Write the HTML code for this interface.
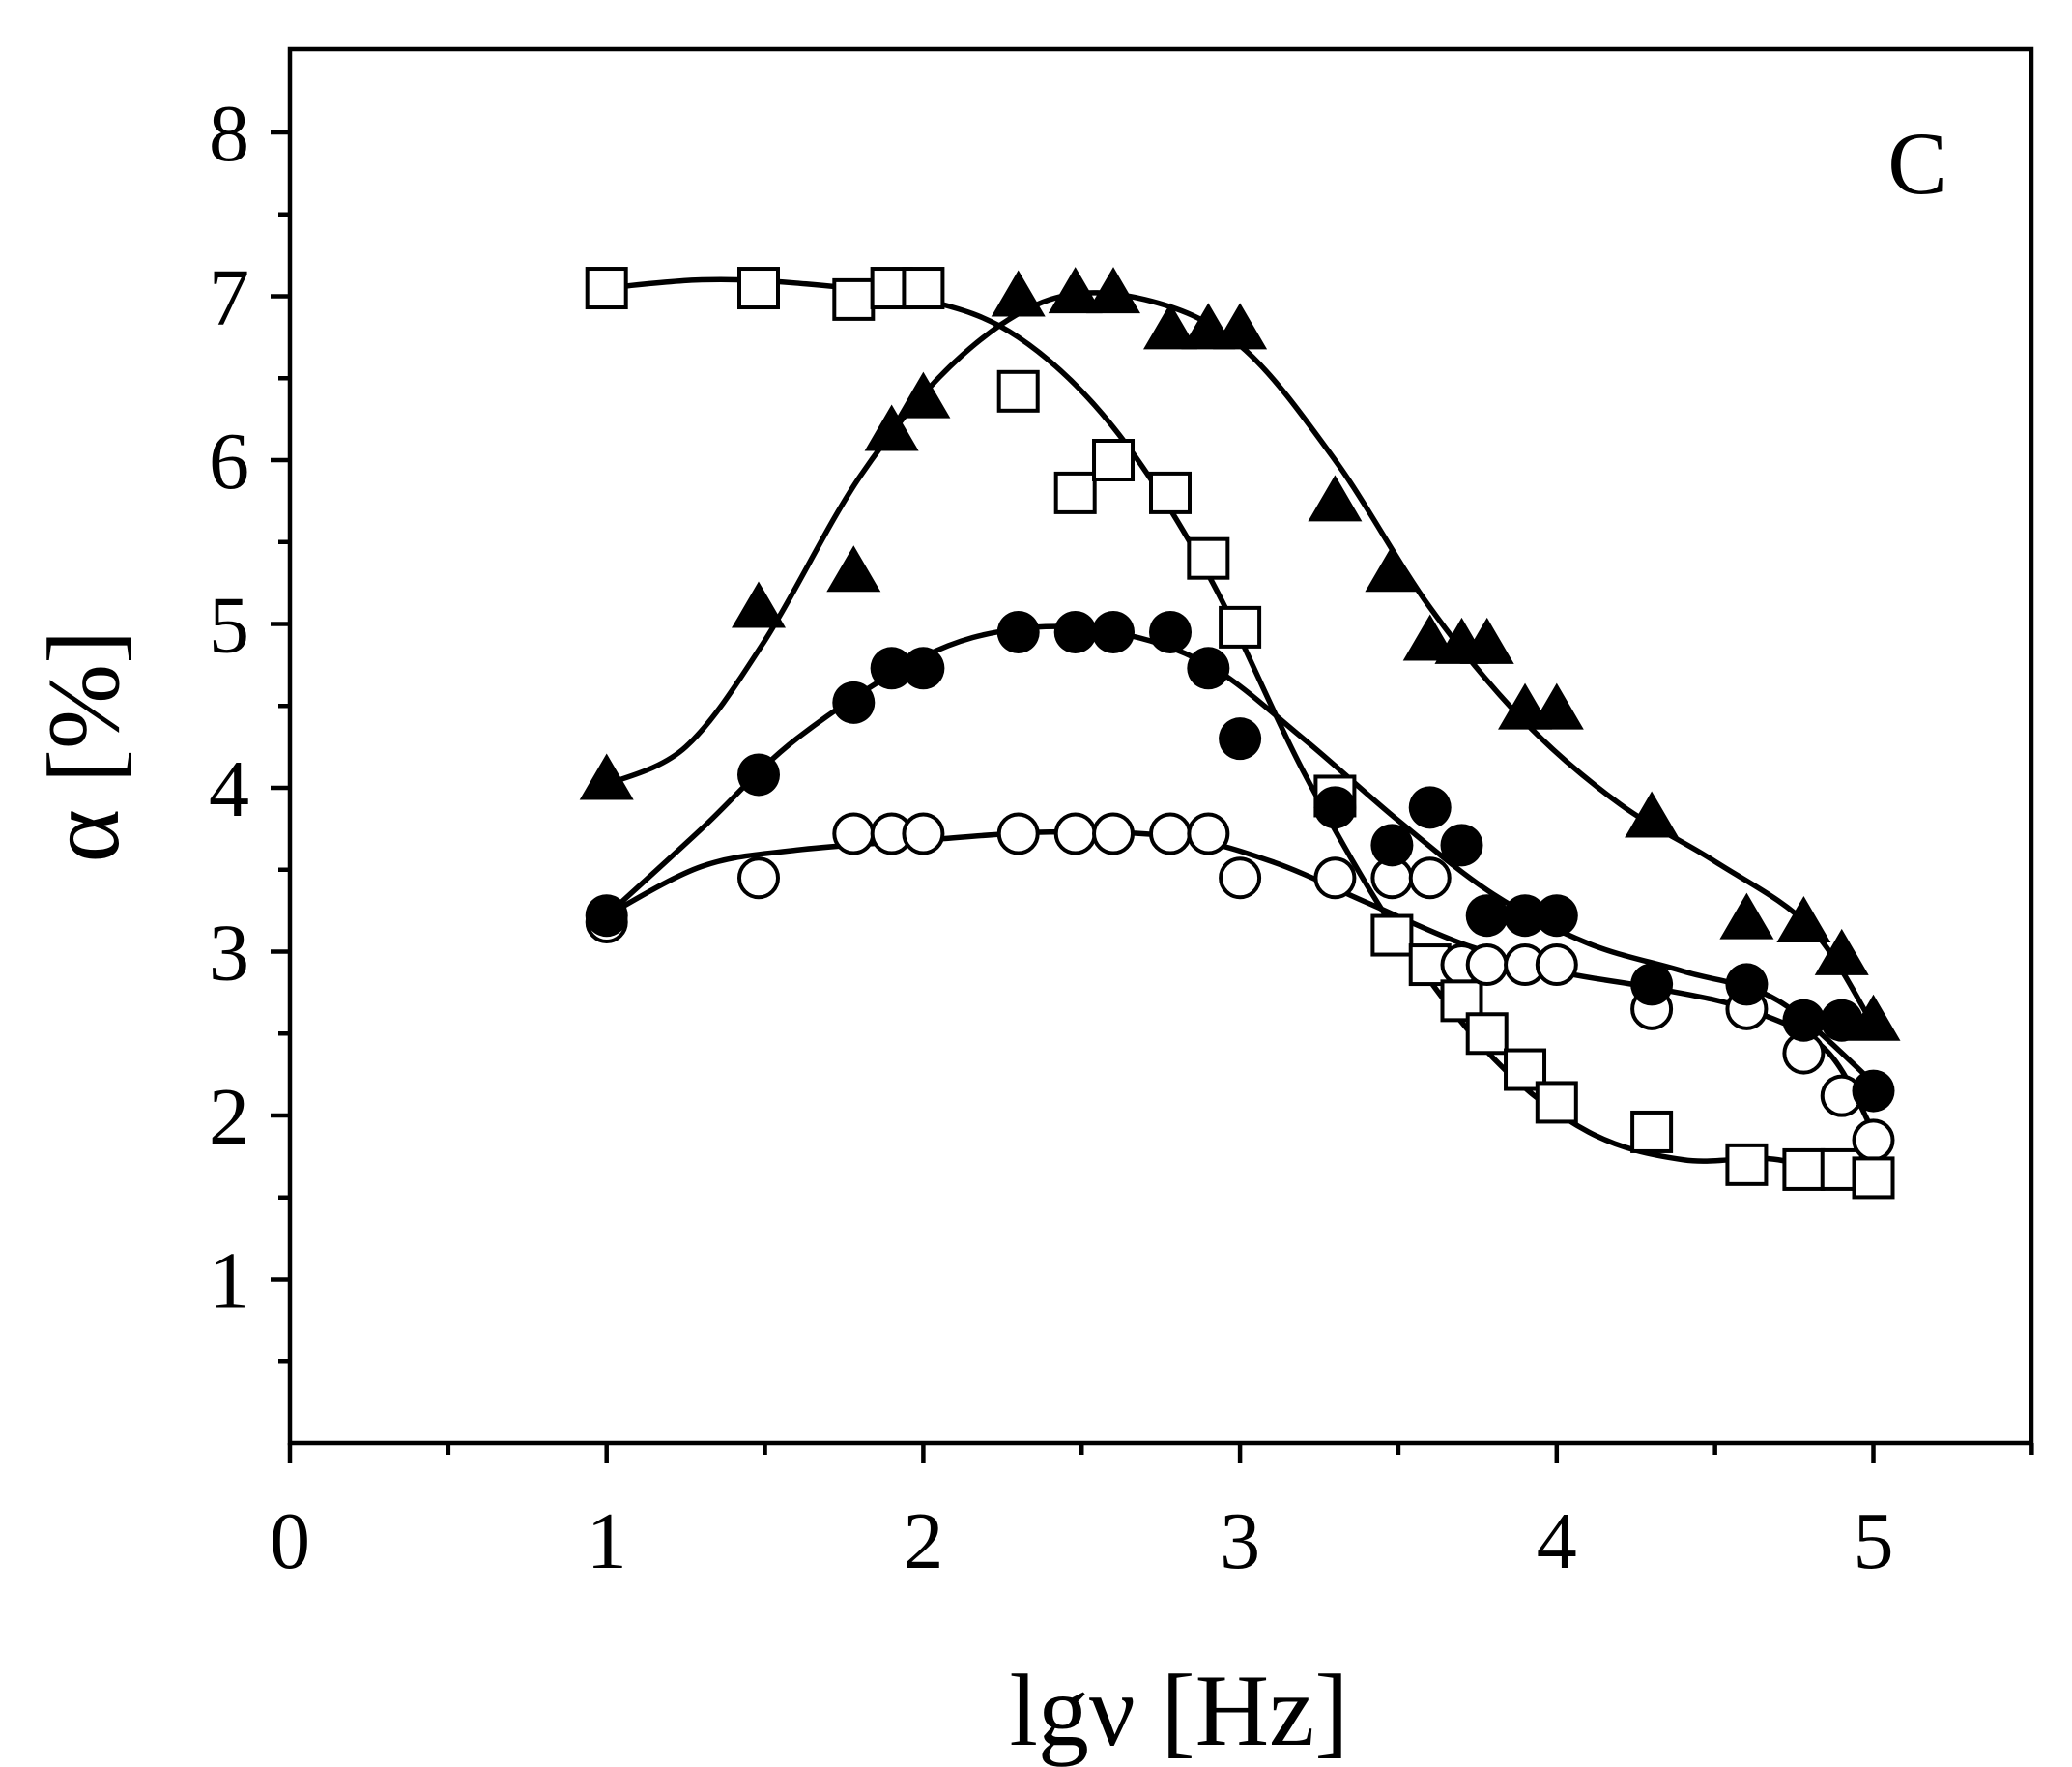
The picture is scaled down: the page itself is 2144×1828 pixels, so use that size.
<!DOCTYPE html>
<html><head><meta charset="utf-8"><style>
html,body{margin:0;padding:0;background:#fff;}
svg{display:block;font-family:"Liberation Serif",serif;}
</style></head><body>
<svg id="chart" width="2144" height="1828" viewBox="0 0 2144 1828" xmlns="http://www.w3.org/2000/svg">
<rect x="300" y="51" width="1802" height="1442" fill="none" stroke="#000" stroke-width="4.5"/>
<g id="axes"></g>
<g id="curves"></g>
<g id="marks"></g>
<text x="1984" y="200" font-size="92" text-anchor="middle">C</text>
<text x="1220" y="1805" font-size="106" text-anchor="middle">lgν [Hz]</text>
<text transform="translate(122,772) rotate(-90)" font-size="106" text-anchor="middle">α [%]</text>
</svg>
<script>
const xTicks=[0,1,2,3,4,5];
const yTicks=[1,2,3,4,5,6,7,8];
const xs=[1,1.48,1.78,1.9,2,2.3,2.48,2.6,2.78,2.9,3,3.3,3.48,3.6,3.7,3.78,3.9,4,4.3,4.6,4.78,4.9,5];
const sqY=[7.05,7.05,6.98,7.05,7.05,6.42,5.8,6.0,5.8,5.4,4.98,3.95,3.1,2.92,2.7,2.5,2.28,2.08,1.9,1.7,1.67,1.67,1.62];
const triY=[4.05,5.1,5.32,6.18,6.38,7.0,7.02,7.02,6.8,6.8,6.8,5.75,5.32,4.9,4.88,4.88,4.48,4.48,3.82,3.2,3.18,2.98,2.58];
const fcY=[3.22,4.08,4.52,4.73,4.73,4.95,4.95,4.95,4.95,4.73,4.3,3.88,3.65,3.88,3.65,3.22,3.22,3.22,2.8,2.8,2.58,2.58,2.15];
const ocY=[3.18,3.45,3.72,3.72,3.72,3.72,3.72,3.72,3.72,3.72,3.45,3.45,3.45,3.45,2.92,2.92,2.92,2.92,2.65,2.65,2.38,2.12,1.85];
const fitSq=[[1,7.05],[1.3,7.1],[1.6,7.08],[2,6.98],[2.3,6.75],[2.6,6.2],[2.9,5.3],[3.2,4.1],[3.5,3.1],[3.8,2.35],[4.1,1.9],[4.4,1.73],[4.7,1.73],[5,1.55]];
const fitTri=[[1,4.02],[1.25,4.25],[1.5,4.9],[1.8,5.9],[2.1,6.6],[2.4,6.98],[2.7,6.98],[3,6.7],[3.3,6.0],[3.6,5.1],[3.9,4.4],[4.2,3.9],[4.5,3.55],[4.8,3.15],[5,2.55]];
const fitFc=[[1,3.22],[1.3,3.75],[1.6,4.3],[2,4.8],[2.3,4.97],[2.6,4.95],[2.9,4.75],[3.2,4.3],[3.5,3.8],[3.8,3.35],[4.1,3.05],[4.4,2.88],[4.7,2.7],[5,2.2]];
const fitOc=[[1,3.22],[1.3,3.52],[1.6,3.62],[2,3.68],[2.4,3.73],[2.8,3.7],[3.1,3.55],[3.4,3.3],[3.7,3.05],[4,2.88],[4.3,2.78],[4.6,2.65],[4.85,2.4],[5,1.9]];

const NS="http://www.w3.org/2000/svg";
const X=v=>300+v*327.7;
const Y=v=>1493-v*169.5;
function mk(tag,attrs,parent){const e=document.createElementNS(NS,tag);for(const k in attrs)e.setAttribute(k,attrs[k]);parent.appendChild(e);return e;}
const axes=document.getElementById('axes');
for(let i=0;i<=11;i++){const v=i*0.5;const len=i%2?12:20;
 const t=mk('line',{x1:X(v),x2:X(v),y1:1493,y2:1493+len,stroke:'#000','stroke-width':4.5},axes);
 
 }
for(let i=1;i<=16;i++){const v=i*0.5;const len=i%2?12:20;
 const t=mk('line',{x1:300-len,x2:300,y1:Y(v),y2:Y(v),stroke:'#000','stroke-width':4.5},axes);
 
 }
xTicks.forEach(v=>{const t=mk('text',{x:X(v),y:1622,'font-size':84,'text-anchor':'middle'},axes);t.textContent=v;
 
 });
yTicks.forEach(v=>{const t=mk('text',{x:258,y:Y(v)+29,'font-size':84,'text-anchor':'end'},axes);t.textContent=v;
 
 });

function smooth(pts){const p=pts.map(q=>[X(q[0]),Y(q[1])]);let d='M'+p[0][0]+','+p[0][1];
 for(let i=0;i<p.length-1;i++){const p0=p[i-1]||p[i],p1=p[i],p2=p[i+1],p3=p[i+2]||p2;
  const c1=[p1[0]+(p2[0]-p0[0])/6,p1[1]+(p2[1]-p0[1])/6],c2=[p2[0]-(p3[0]-p1[0])/6,p2[1]-(p3[1]-p1[1])/6];
  d+=' C'+c1+' '+c2+' '+p2;}return d;}
const curves=document.getElementById('curves');
[[fitSq,'fit-curve-squares'],[fitTri,'fit-curve-triangles'],[fitFc,'fit-curve-filled-circles'],[fitOc,'fit-curve-open-circles']].forEach(([f,n])=>{
 const e=mk('path',{d:smooth(f),fill:'none',stroke:'#000','stroke-width':5.5},curves);
 
 });
const marks=document.getElementById('marks');
xs.forEach((x,i)=>{const cx=X(x);
 let e=mk('circle',{cx:cx,cy:Y(ocY[i]),r:20,fill:'#fff',stroke:'#000','stroke-width':4},marks);
 
 
 e=mk('rect',{x:cx-20,y:Y(sqY[i])-20,width:40,height:40,fill:'#fff',stroke:'#000','stroke-width':4},marks);
 
 
 e=mk('circle',{cx:cx,cy:Y(fcY[i]),r:22,fill:'#000'},marks);
 
 
 const ty=Y(triY[i]);
 e=mk('polygon',{points:`${cx-28},${ty+21} ${cx+28},${ty+21} ${cx},${ty-27}`,fill:'#000'},marks);
 
 });
</script>
</body></html>
